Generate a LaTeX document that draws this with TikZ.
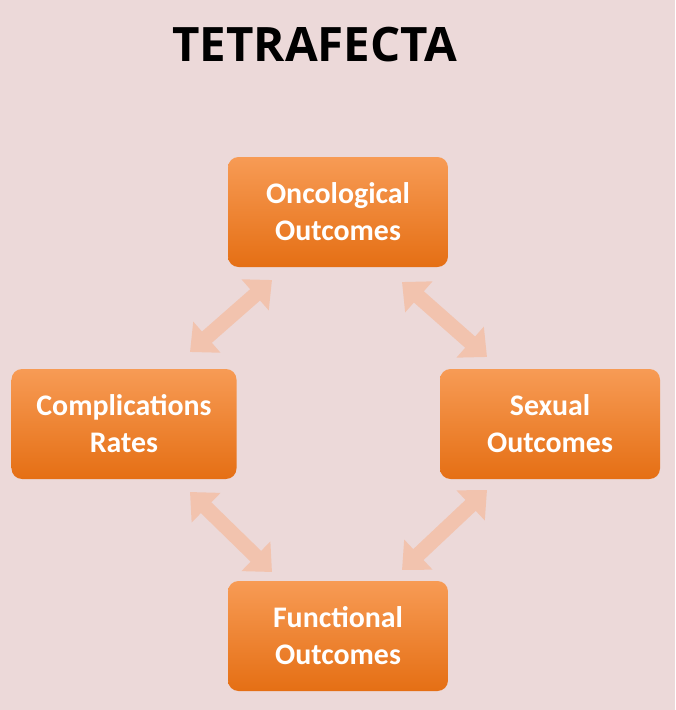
\documentclass[tikz,border=0pt]{standalone}
\usepackage{fontspec}
\setmainfont{Carlito}
\usetikzlibrary{arrows.meta}
\definecolor{bgpink}{HTML}{ECD9D9}
\definecolor{boxtop}{HTML}{F79B55}
\definecolor{boxbot}{HTML}{E56F14}
\definecolor{arrowpink}{HTML}{F2C3AE}
\begin{document}
\begin{tikzpicture}[
  outcome/.style={rounded corners=6pt, top color=boxtop, bottom color=boxbot,
    text=white, font=\bfseries\fontsize{17}{21}\selectfont, align=center,
    minimum width=4.4cm, minimum height=2.2cm},
  blockarrow/.style={arrowpink, line width=0.3cm,
    {Triangle[width=0.8cm,length=0.45cm]}-{Triangle[width=0.8cm,length=0.45cm]}}]

% background
\fill[bgpink] (0,0) rectangle (13.5,-14.2);

% title
\node (title) at (6.3,-0.9) {\fontspec{Open Sans}\bfseries\fontsize{27}{32}\selectfont TETRAFECTA};

% nodes
\node[outcome] (onc) at (6.76,-4.24) {Oncological\\Outcomes};
\node[outcome, minimum width=4.5cm] (comp) at (2.48,-8.48) {Complications\\Rates};
\node[outcome] (sex) at (11.0,-8.48) {Sexual\\Outcomes};
\node[outcome] (func) at (6.76,-12.72) {Functional\\Outcomes};

% arrow ends
\coordinate (a1) at (3.8,-7.04);  \coordinate (b1) at (5.44,-5.6);
\coordinate (a2) at (8.04,-5.64); \coordinate (b2) at (9.74,-7.14);
\coordinate (a3) at (8.04,-11.4); \coordinate (b3) at (9.74,-9.8);
\coordinate (a4) at (3.8,-9.84);  \coordinate (b4) at (5.44,-11.44);

% arrows
\draw[blockarrow] (a1) -- (b1);
\draw[blockarrow] (a2) -- (b2);
\draw[blockarrow] (a3) -- (b3);
\draw[blockarrow] (a4) -- (b4);

\end{tikzpicture}
\end{document}
